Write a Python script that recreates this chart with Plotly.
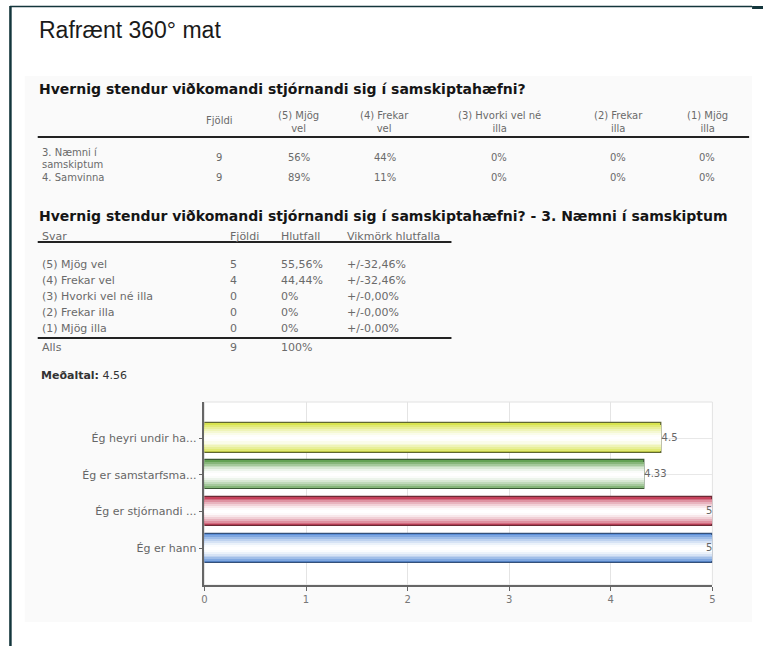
import plotly.graph_objects as go

# ---------------- data ----------------
page_title = "Rafrænt 360° mat"
heading1 = "Hvernig stendur viðkomandi stjórnandi sig í samskiptahæfni?"
t1_headers = ["Fjöldi", "(5) Mjög<br>vel", "(4) Frekar<br>vel", "(3) Hvorki vel né<br>illa", "(2) Frekar<br>illa", "(1) Mjög<br>illa"]
t1_rows = [["3. Næmni í", "samskiptum"], ["4. Samvinna"]]
t1_counts = [9, 9]
t1_percents = [[56, 44, 0, 0, 0], [89, 11, 0, 0, 0]]

heading2 = "Hvernig stendur viðkomandi stjórnandi sig í samskiptahæfni? - 3. Næmni í samskiptum"
t2_headers = ["Svar", "Fjöldi", "Hlutfall", "Vikmörk hlutfalla"]
t2_answers = ["(5) Mjög vel", "(4) Frekar vel", "(3) Hvorki vel né illa", "(2) Frekar illa", "(1) Mjög illa"]
t2_counts = [5, 4, 0, 0, 0]
t2_share = ["55,56%", "44,44%", "0%", "0%", "0%"]
t2_margin = ["+/-32,46%", "+/-32,46%", "+/-0,00%", "+/-0,00%", "+/-0,00%"]
t2_total_label = "Alls"
t2_total_count = 9
t2_total_share = "100%"
mean_label = "Meðaltal:"
mean_value = 4.56

chart_categories = ["Ég heyri undir ha...", "Ég er samstarfsma...", "Ég er stjórnandi ...", "Ég er hann"]
chart_values = [4.5, 4.33, 5, 5]
x_ticks = [0, 1, 2, 3, 4, 5]

# ---------------- layout helpers ----------------
W, H = 766, 646
def px(x): return x / W
def py(y): return 1 - y / H

bar_colors = ["#d8e44e", "#64a255", "#c6425c", "#5c8fd8"]
bar_borders = ["#5f6630", "#3a5a34", "#6a2a34", "#34507a"]

def mix(hex_color, t):
    h = hex_color.lstrip("#")
    r, g, b = int(h[0:2], 16), int(h[2:4], 16), int(h[4:6], 16)
    r = round(r + (255 - r) * t); g = round(g + (255 - g) * t); b = round(b + (255 - b) * t)
    return f"rgb({r},{g},{b})"

fig = go.Figure()

# glossy bars: overlay layers, from edge colour to white
layers = [(0.80, 0.0), (0.70, 0.22), (0.60, 0.42), (0.50, 0.6), (0.40, 0.75), (0.30, 0.88), (0.18, 0.97), (0.08, 1.0)]
for i, (w, t) in enumerate(layers):
    fig.add_trace(go.Bar(
        x=chart_values, y=chart_categories, orientation="h", width=w,
        marker=dict(color=[mix(c, t) for c in bar_colors],
                    line=dict(color=bar_borders if i == 0 else [mix(c, t) for c in bar_colors],
                              width=1.3 if i == 0 else 0)),
        hoverinfo="skip", showlegend=False))

fig.add_trace(go.Scatter(
    x=chart_values, y=chart_categories, mode="text",
    text=[f"{v:g}" for v in chart_values],
    textposition=["middle left" if v >= max(x_ticks) else "middle right" for v in chart_values],
    textfont=dict(family="DejaVu Sans", size=10, color="#666"),
    hoverinfo="skip", showlegend=False, cliponaxis=False))

fig.update_layout(
    width=W, height=H, autosize=False,
    margin=dict(l=0, r=0, t=0, b=0),
    paper_bgcolor="white", plot_bgcolor="white",
    barmode="overlay", bargap=0,
    xaxis=dict(domain=[px(203), px(715)], range=[0, 5], tickvals=x_ticks,
               showgrid=True, gridcolor="#e4e4e4", gridwidth=1,
               showline=True, linecolor="#666", linewidth=1.5,
               ticks="outside", ticklen=4, tickcolor="#666",
               tickfont=dict(family="DejaVu Sans", size=10, color="#777"),
               zeroline=False, fixedrange=True),
    yaxis=dict(domain=[py(585), py(402)], range=[4.0, -0.98],
               type="category", categoryarray=chart_categories,
               showgrid=True, gridcolor="#e8e8e8",
               showline=True, linecolor="#666", linewidth=1.5,
               ticks="outside", ticklen=4, tickcolor="#666",
               tickfont=dict(family="DejaVu Sans", size=11, color="#666"),
               zeroline=False, fixedrange=True),
)

shapes = []
shapes.append(dict(type="rect", xref="paper", yref="paper", x0=px(22), x1=px(755), y0=py(622), y1=py(76),
                   fillcolor="#fafafa", line=dict(width=0), layer="below"))
shapes.append(dict(type="rect", xref="paper", yref="paper", x0=px(203), x1=px(715), y0=py(585), y1=py(402),
                   fillcolor="white", line=dict(color="#e2e2e2", width=1), layer="below"))
frame = "#14363c"
shapes.append(dict(type="line", xref="paper", yref="paper", x0=px(7.5), x1=px(7.5), y0=py(646), y1=py(6),
                   line=dict(color=frame, width=2.5)))
shapes.append(dict(type="line", xref="paper", yref="paper", x0=px(7), x1=px(755), y0=py(6.5), y1=py(6.5),
                   line=dict(color=frame, width=1.5)))
shapes.append(dict(type="line", xref="paper", yref="paper", x0=px(755), x1=px(766), y0=py(7.5), y1=py(7.5),
                   line=dict(color=frame, width=3)))
for y, x1 in [(137, 752), (242, 452), (338, 452)]:
    shapes.append(dict(type="line", xref="paper", yref="paper", x0=px(35), x1=px(x1), y0=py(y), y1=py(y),
                       line=dict(color="#222", width=2.2)))

ann = []
def text(x, y, s, size=10, color="#6a6a6a", family="DejaVu Sans", xanchor="left", align="left"):
    ann.append(dict(x=px(x), y=py(y), xref="paper", yref="paper", text=s, showarrow=False,
                    xanchor=xanchor, yanchor="middle", align=align,
                    font=dict(family=family, size=size, color=color)))

text(34, 30, page_title, size=23, color="#1a1a1a", family="Liberation Sans")
text(34, 89, f"<b>{heading1}</b>", size=14, color="#151515")

# table 1
t1_x = [218, 298, 385, 500, 620, 710]
fs1 = 10
for x, h in zip(t1_x, t1_headers):
    text(x, 122 if "<br>" in h else 121, h, size=fs1, xanchor="center", align="center")
row_centres = [158, 177]
for r, yc in enumerate(row_centres):
    lines = t1_rows[r]
    for k, line in enumerate(lines):
        text(37, yc + (k - (len(lines) - 1) / 2) * 12, line, size=fs1)
    text(t1_x[0], yc, str(t1_counts[r]), size=fs1, xanchor="center")
    for c, v in enumerate(t1_percents[r]):
        text(t1_x[c + 1], yc, f"{v}%", size=fs1, xanchor="center")

# table 2
text(34, 216, f"<b>{heading2}</b>", size=14, color="#151515")
t2_x = [37, 227, 278, 345]
fs2 = 11
for x, h in zip(t2_x, t2_headers):
    text(x, 236, h, size=fs2)
for i, y in enumerate([264, 280, 296, 312, 328]):
    text(t2_x[0], y, t2_answers[i], size=fs2)
    text(t2_x[1], y, str(t2_counts[i]), size=fs2)
    text(t2_x[2], y, t2_share[i], size=fs2)
    text(t2_x[3], y, t2_margin[i], size=fs2)
text(t2_x[0], 347, t2_total_label, size=fs2)
text(t2_x[1], 347, str(t2_total_count), size=fs2)
text(t2_x[2], 347, t2_total_share, size=fs2)
text(36, 375, f"<b>{mean_label}</b> {mean_value:g}", size=11, color="#333")

fig.update_layout(shapes=shapes, annotations=ann)
fig.write_html("out.html", post_script="document.body.style.margin='0';",
               config={"displayModeBar": False})
